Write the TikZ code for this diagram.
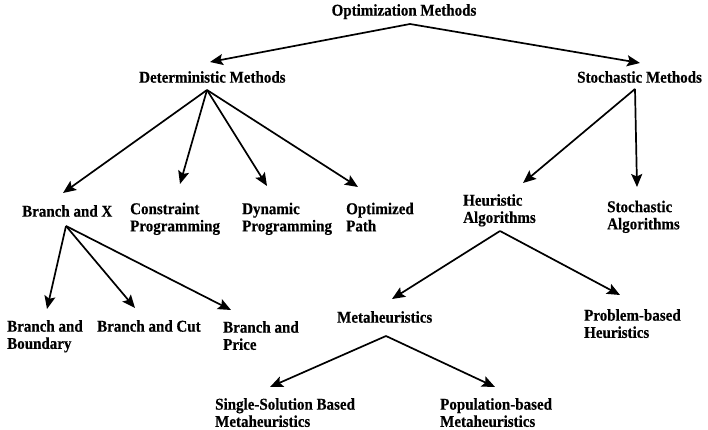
\documentclass[tikz,border=0pt]{standalone}
\usepackage{fontspec}
\setmainfont{Liberation Serif}[FakeStretch=0.91, BoldFeatures={FakeBold=0.4}]
\usetikzlibrary{arrows.meta}
\begin{document}
\begin{tikzpicture}[x=1pt,y=-1pt,
  lbl/.style={inner sep=0pt, anchor=north west, align=left, font=\fontsize{16.5}{17.2}\selectfont\bfseries},
  arr/.style={line width=1.7pt, -{Stealth[length=13pt,width=11pt,inset=2.5pt]}}]
\useasboundingbox (0,0) rectangle (708,430);
% labels
\node[lbl, anchor=north] (om) at (404,4) {Optimization Methods};
\node[lbl] (dm) at (139,71) {Deterministic Methods};
\node[lbl] (sm) at (577,71) {Stochastic Methods};
\node[lbl] (bx) at (22,205) {Branch and X};
\node[lbl] (cp) at (130,202.5) {Constraint\\Programming};
\node[lbl] (dp) at (242,202.5) {Dynamic\\Programming};
\node[lbl] (op) at (346,202.5) {Optimized\\Path};
\node[lbl] (ha) at (463,194) {Heuristic\\Algorithms};
\node[lbl] (sa) at (607,200.5) {Stochastic\\Algorithms};
\node[lbl] (bb) at (7,320) {Branch and\\Boundary};
\node[lbl] (bc) at (97,320) {Branch and Cut};
\node[lbl] (bp) at (223,321) {Branch and\\Price};
\node[lbl] (mh) at (337,311) {Metaheuristics};
\node[lbl] (pb) at (584,309) {Problem-based\\Heuristics};
\node[lbl] (ss) at (215,398) {Single-Solution Based\\Metaheuristics};
\node[lbl] (pop) at (440,398) {Population-based\\Metaheuristics};
% connector ends
\coordinate (om-s) at (410,24);
\coordinate (dm-t) at (210,62);
\coordinate (sm-t) at (640,63);
\coordinate (dm-s) at (207,90);
\coordinate (bx-t) at (63,193);
\coordinate (cp-t) at (180,184);
\coordinate (dp-t) at (267,186);
\coordinate (op-t) at (358,187);
\coordinate (sm-s) at (635,89);
\coordinate (ha-t) at (523,183);
\coordinate (sa-t) at (637,187);
\coordinate (bx-s) at (66,226);
\coordinate (bb-t) at (47,309);
\coordinate (bc-t) at (135,308);
\coordinate (bp-t) at (231,310);
\coordinate (ha-s) at (500,231);
\coordinate (mh-t) at (392,299);
\coordinate (pb-t) at (620,295);
\coordinate (mh-s) at (386,336);
\coordinate (ss-t) at (270,387);
\coordinate (pop-t) at (495,387);
% connectors
\draw[arr] (om-s) -- (dm-t);
\draw[arr] (om-s) -- (sm-t);
\draw[arr] (dm-s) -- (bx-t);
\draw[arr] (dm-s) -- (cp-t);
\draw[arr] (dm-s) -- (dp-t);
\draw[arr] (dm-s) -- (op-t);
\draw[arr] (sm-s) -- (ha-t);
\draw[arr] (sm-s) -- (sa-t);
\draw[arr] (bx-s) -- (bb-t);
\draw[arr] (bx-s) -- (bc-t);
\draw[arr] (bx-s) -- (bp-t);
\draw[arr] (ha-s) -- (mh-t);
\draw[arr] (ha-s) -- (pb-t);
\draw[arr] (mh-s) -- (ss-t);
\draw[arr] (mh-s) -- (pop-t);
\end{tikzpicture}
\end{document}
